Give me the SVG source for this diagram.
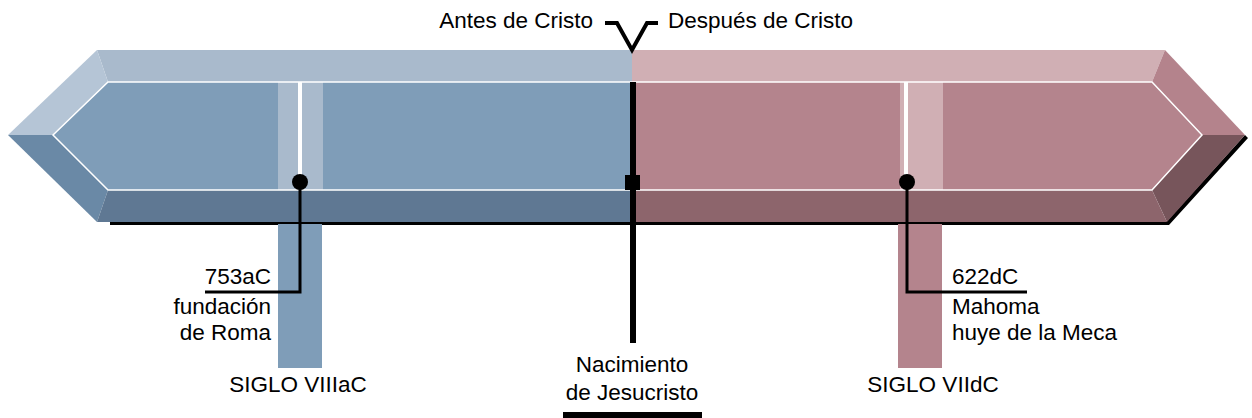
<svg xmlns="http://www.w3.org/2000/svg" width="1252" height="418" viewBox="0 0 1252 418">
<style>
text{font-family:"Liberation Sans",Arial,sans-serif;font-size:22.5px;fill:#000;}
.ln{fill:none;stroke:#000;stroke-width:3;}
</style>
<rect width="1252" height="418" fill="#fff"/>
<g id="bar">
<polygon points="110,221 1167,221 1245,135 1248,138 1169,225 110,225" fill="#000"/>
<polygon points="97,50 632,50 632,82 108,82" fill="#A9BACC"/>
<polygon points="8,135 97,50 108,82 53,135" fill="#B5C5D6"/>
<polygon points="8,135 53,135 108,190 97,222" fill="#6A89A6"/>
<polygon points="108,190 632,190 632,222 97,222" fill="#5F7893"/>
<polygon points="53,135 108,82 632,82 632,190 108,190" fill="#7F9DB8"/>
<polygon points="632,50 1165,50 1152,82 632,82" fill="#D0AFB4"/>
<polygon points="1165,50 1245,135 1202,135 1152,82" fill="#B4838C"/>
<polygon points="1202,135 1245,135 1167,222 1152,190" fill="#77555B"/>
<polygon points="632,190 1152,190 1167,222 632,222" fill="#8D656C"/>
<polygon points="632,82 1152,82 1202,135 1152,190 632,190" fill="#B4848D"/>
<rect x="278" y="82" width="45" height="108" fill="#A9BACC"/>
<rect x="900" y="82" width="43" height="108" fill="#D0AFB4"/>
<polygon points="53,135 108,82 1152,82 1202,135 1152,190 108,190" fill="none" stroke="#fff" stroke-width="1.5"/>
<rect x="298" y="82" width="4" height="108" fill="#fff"/>
<rect x="904" y="82" width="4" height="108" fill="#fff"/>
</g>
<g id="siglo-viii">
<rect x="278" y="224" width="44" height="144" fill="#7F9DB8"/>
<text x="298" y="392" text-anchor="middle">SIGLO VIIIaC</text>
</g>
<g id="siglo-vii">
<rect x="898" y="224" width="44" height="144" fill="#B4848D"/>
<text x="933" y="392" text-anchor="middle">SIGLO VIIdC</text>
</g>
<g id="connectors">
<polyline class="ln" points="300,182 300,292 205,292"/>
<polyline class="ln" points="907,182 907,292 1027,292"/>
<rect x="630" y="82" width="6" height="261" fill="#000"/>
<polyline points="605,23 617,23 632,50 647,23 658,23" fill="none" stroke="#000" stroke-width="4"/>
</g>
<g id="event-753">
<circle cx="300" cy="182" r="8" fill="#000"/>
<text x="271" y="284" text-anchor="end">753aC</text>
<text x="271" y="314" text-anchor="end">fundación</text>
<text x="271" y="340" text-anchor="end">de Roma</text>
</g>
<g id="event-622">
<circle cx="907" cy="182" r="8" fill="#000"/>
<text x="952" y="284">622dC</text>
<text x="952" y="314">Mahoma</text>
<text x="952" y="340">huye de la Meca</text>
</g>
<g id="nacimiento">
<rect x="625" y="175" width="15" height="15" fill="#000"/>
<text x="632" y="372" text-anchor="middle">Nacimiento</text>
<text x="632" y="400" text-anchor="middle">de Jesucristo</text>
<rect x="563" y="412" width="139" height="6" fill="#000"/>
</g>
<g id="era-labels">
<text x="593" y="28" text-anchor="end">Antes de Cristo</text>
<text x="668" y="28">Después de Cristo</text>
</g>
</svg>
